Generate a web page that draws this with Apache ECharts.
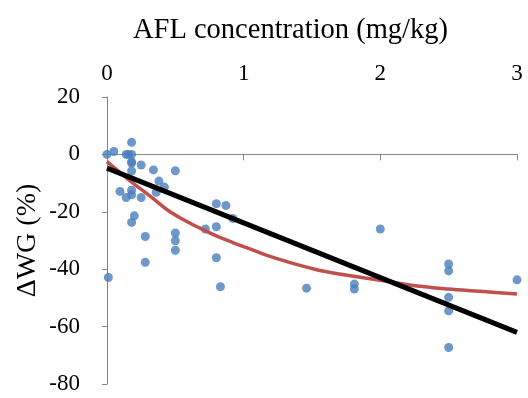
<!DOCTYPE html>
<html>
<head>
<meta charset="utf-8">
<script src="https://cdn.jsdelivr.net/npm/echarts@6/dist/echarts.min.js"></script>
<style>html,body{margin:0;padding:0;background:#fff;}#c{width:528px;height:398px;}</style>
</head>
<body>
<div id="c"></div>
<script>
// Scatter observations: AFL concentration (mg/kg) vs ΔWG (%)
var afl = [0, 0.05, 0.18, 0.14, 0.18, 0.18, 0.18, 0.25, 0.34, 0.5,
           0.095, 0.14, 0.18, 0.18, 0.25, 0.38, 0.36, 0.42, 0.2, 0.18,
           0.28, 0.5, 0.5, 0.5, 0.28, 0.01, 0.72, 0.8, 0.87, 0.8,
           0.92, 0.8, 0.83, 1.46, 1.81, 1.81, 2.0, 2.5, 2.5, 2.5,
           2.5, 2.5, 3.0, 0.156, 0.18];
var dwg = [0, 1.0, 4.2, 0, 0, -2.6, -5.8, -3.7, -5.4, -5.7,
           -12.9, -15.0, -12.5, -14.1, -15.0, -9.3, -13.2, -11.4, -21.4, -23.7,
           -28.6, -27.4, -30.1, -33.4, -37.6, -42.9, -26.0, -17.2, -17.8, -25.2,
           -22.3, -36.0, -46.1, -46.6, -45.2, -46.9, -26.0, -38.2, -40.6, -49.8,
           -54.5, -67.3, -43.7, 0, -3.0];

// Red trend curve
var curveX = [0, 0.19, 0.32, 0.44, 0.56, 0.68, 0.8, 0.92, 1.05, 1.16, 1.34, 1.52, 1.7, 1.89, 2.06, 2.24, 2.49, 2.73, 3.0];
var curveY = [-2.5, -10, -14.7, -19.3, -22.8, -25.7, -28.4, -30.7, -33, -35, -37.7, -40, -41.7, -43.1, -44.3, -45.7, -46.9, -47.7, -48.6];

// Black linear trend, end points
var lineX = [0, 3];
var lineY = [-4.8, -62];

var xTicks = [0, 1, 2, 3];
var yTicks = [-80, -60, -40, -20, 0, 20];

function zip(a, b) { return a.map(function (v, i) { return [v, b[i]]; }); }

var serif = 'Liberation Serif';
var gridTop = 97, gridBottom = 14, H = 398;
var plotH = H - gridTop - gridBottom;
// offset of the zero line above the bottom of the plot, via the y scale
var zeroOffset = -plotH * (0 - yTicks[0]) / (yTicks[yTicks.length - 1] - yTicks[0]);

var chart = echarts.init(document.getElementById('c'), null, {renderer: 'canvas'});
chart.setOption({
  animation: false,
  backgroundColor: '#fff',
  title: {
    text: 'AFL concentration (mg/kg)',
    left: 128, top: 11,
    textStyle: {fontFamily: serif, fontSize: 28.5, fontWeight: 'normal', color: '#000'}
  },
  grid: {left: 107, right: 11, top: gridTop, bottom: gridBottom, containLabel: false},
  xAxis: [{
    type: 'value', position: 'top', min: xTicks[0], max: xTicks[xTicks.length - 1], interval: 1,
    axisLine: {show: false}, axisTick: {show: false}, splitLine: {show: false},
    axisLabel: {margin: 12, fontFamily: serif, fontSize: 23, color: '#000'}
  }, {
    type: 'value', position: 'bottom', min: 0, max: 3, interval: 1, offset: zeroOffset,
    axisLine: {show: true, onZero: false, lineStyle: {color: '#868686', width: 1}},
    axisTick: {show: true, inside: false, length: 6, lineStyle: {color: '#868686'}},
    axisLabel: {show: false}, splitLine: {show: false}
  }],
  yAxis: {
    type: 'value', min: yTicks[0], max: yTicks[yTicks.length - 1], interval: 20,
    name: 'ΔWG (%)', nameLocation: 'middle', nameGap: 65, nameRotate: 90, nameMoveOverlap: false,
    nameTextStyle: {fontFamily: serif, fontSize: 28, color: '#000'},
    axisLine: {show: true, onZero: false, lineStyle: {color: '#868686', width: 1}},
    axisTick: {show: true, length: 5, lineStyle: {color: '#868686'}},
    axisLabel: {margin: 27, fontFamily: serif, fontSize: 23, color: '#000'},
    splitLine: {show: false}
  },
  series: [{
    type: 'scatter', xAxisIndex: 0, data: zip(afl, dwg), symbolSize: 9,
    itemStyle: {color: '#4A7EBB'}, z: 2
  }, {
    type: 'line', xAxisIndex: 0, data: zip(curveX, curveY), smooth: 0.4, showSymbol: false, symbol: 'none',
    lineStyle: {color: '#C0504D', width: 3.5}, z: 3
  }, {
    type: 'line', xAxisIndex: 0, data: zip(lineX, lineY), showSymbol: false, symbol: 'none',
    lineStyle: {color: '#000', width: 5}, z: 4
  }]
});
</script>
</body>
</html>
